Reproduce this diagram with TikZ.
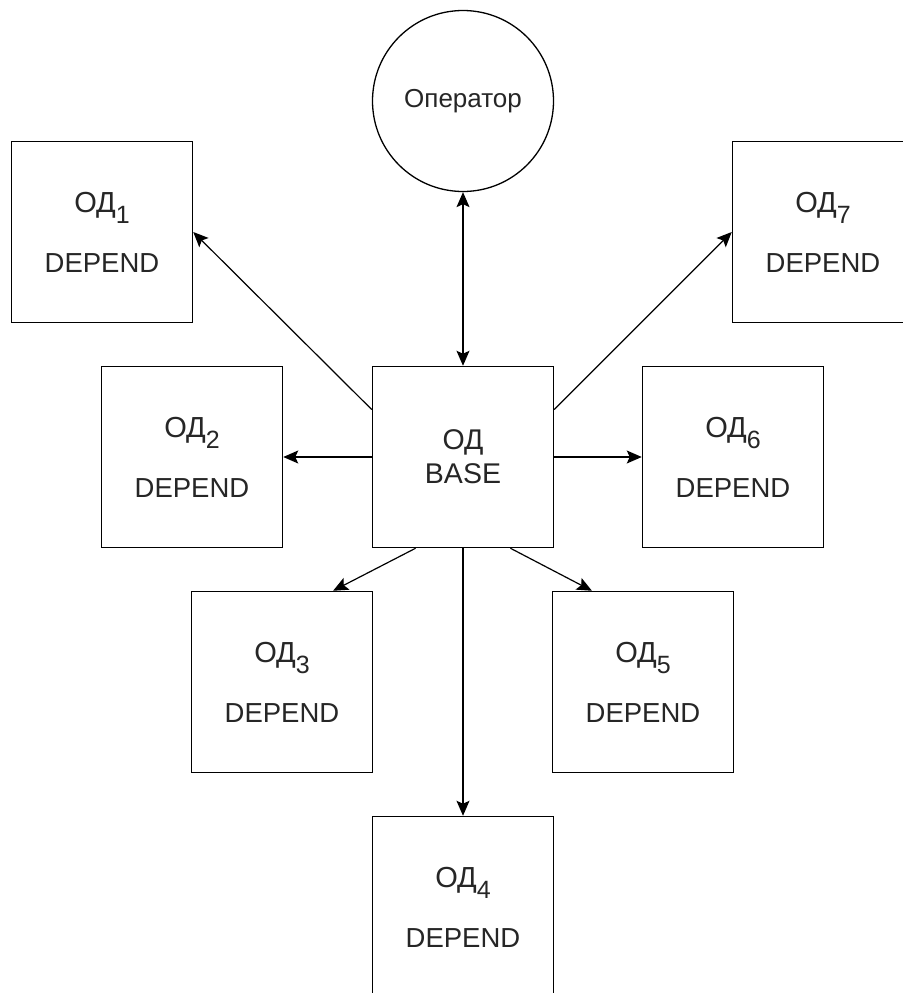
\documentclass[tikz,border=0pt]{standalone}
\usepackage{fontspec}
\setmainfont{Liberation Sans}
\usetikzlibrary{arrows.meta,calc}
% "ОД" with a lowered index
\newcommand\odidx[1]{{\fontsize{29}{29}\selectfont ОД}\raisebox{-11pt}{\fontsize{25}{25}\selectfont #1}}
\begin{document}
\begin{tikzpicture}[x=1pt,y=-1pt,
  box/.style={draw=black, line width=1.5pt, minimum width=181pt, minimum height=181pt,
    inner sep=0pt, align=center, text=black!85, font=\fontsize{27.5}{60}\selectfont},
  basebox/.style={box, font=\fontsize{28.5}{34}\selectfont},
  opcircle/.style={draw=black, line width=1.3pt, circle, minimum size=181pt, inner sep=0pt,
    text=black!85, font=\fontsize{26}{30}\selectfont},
  link/.style={draw=black, line width=1.2pt, -{Stealth[length=15pt,width=13pt,inset=3pt]}},
  duallink/.style={link, {Stealth[length=15pt,width=13pt,inset=3pt]}-{Stealth[length=15pt,width=13pt,inset=3pt]}},
]
\fill[white] (0,0) rectangle (902,993);
\useasboundingbox (0,0) rectangle (902,993);

% nodes
\node[opcircle] (op) at (463,101) {Оператор};
\node[basebox] (base) at (463,457) {ОД\\BASE};
\node[box] (od1) at (102,232) {\odidx{1}\\DEPEND};
\node[box] (od2) at (192,457) {\odidx{2}\\DEPEND};
\node[box] (od3) at (282,682) {\odidx{3}\\DEPEND};
\node[box] (od4) at (463,907) {\odidx{4}\\DEPEND};
\node[box] (od5) at (643,682) {\odidx{5}\\DEPEND};
\node[box] (od6) at (733,457) {\odidx{6}\\DEPEND};
\node[box] (od7) at (823,232) {\odidx{7}\\DEPEND};

% connectors
\draw[duallink] (base.north) -- (op.south);
\draw[link] ($(base.north west)!0.24!(base.south west)$) -- (od1.east);
\draw[link] ($(base.north east)!0.24!(base.south east)$) -- (od7.west);
\draw[link] (base.west) -- (od2.east);
\draw[link] (base.east) -- (od6.west);
\draw[link] (base.south) -- (od4.north);
\draw[link] ($(base.south west)!0.24!(base.south east)$) -- ($(od3.north west)!0.78!(od3.north east)$);
\draw[link] ($(base.south west)!0.76!(base.south east)$) -- ($(od5.north west)!0.22!(od5.north east)$);
\end{tikzpicture}
\end{document}
